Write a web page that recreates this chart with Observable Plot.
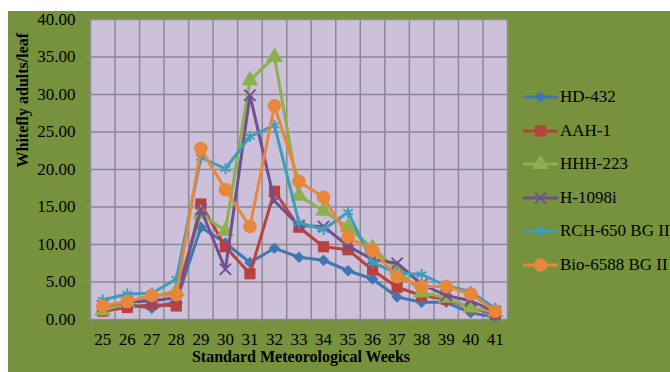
<!DOCTYPE html>
<html>
<head>
<meta charset="utf-8">
<script src="https://cdn.jsdelivr.net/npm/d3@7"></script>
<script src="https://cdn.jsdelivr.net/npm/@observablehq/plot@0.6"></script>
<style>
  html, body { margin: 0; padding: 0; background: #ffffff; }
  #wrap { position: relative; width: 670px; height: 372px; overflow: hidden; }
  #chart { position: absolute; left: 8px; top: 11px; width: 662px; height: 361px; background: #76923C; }
  #chart svg { display: block; }
  #legend { position: absolute; left: 523px; top: 0; font-family: "Liberation Serif", "DejaVu Serif", serif; font-size: 17px; color: #000; }
  .item { position: absolute; left: 0; height: 20px; display: flex; align-items: center; white-space: nowrap; }
  .item svg { display: block; margin-right: 1px; }
</style>
</head>
<body>
<div id="wrap">
  <div id="chart"></div>
  <div id="legend"></div>
</div>
<script>
// Standard meteorological weeks
const weeks = [25, 26, 27, 28, 29, 30, 31, 32, 33, 34, 35, 36, 37, 38, 39, 40, 41];

// Whitefly adults per leaf for each hybrid
const hd432   = [1.5, 2.0, 1.5, 2.4, 12.3, 10.2, 7.6, 9.5, 8.3, 7.9, 6.5, 5.4, 3.0, 2.3, 2.3, 0.9, 0.3];
const aah1    = [1.1, 1.6, 2.0, 1.8, 15.4, 9.7, 6.1, 17.1, 12.3, 9.7, 9.3, 6.6, 4.3, 3.2, 2.7, 1.6, 0.7];
const hhh223  = [1.2, 2.2, 3.0, 3.8, 14.1, 11.8, 31.9, 35.0, 16.5, 14.5, 12.3, 9.5, 6.7, 3.6, 2.9, 1.6, 1.0];
const h1098i  = [1.8, 2.3, 2.5, 2.9, 14.7, 6.7, 29.9, 15.8, 12.5, 12.4, 9.8, 8.0, 7.5, 4.7, 3.2, 2.5, 1.0];
const rch650  = [2.6, 3.4, 3.5, 5.4, 21.6, 20.1, 24.4, 25.9, 12.9, 12.0, 14.3, 7.6, 6.2, 6.0, 4.5, 3.7, 1.5];
const bio6588 = [1.8, 2.4, 3.2, 3.3, 22.8, 17.3, 12.4, 28.5, 18.4, 16.3, 11.0, 9.2, 5.7, 4.4, 4.4, 3.4, 1.1];

const seriesNames = ["HD-432", "AAH-1", "HHH-223", "H-1098i", "RCH-650 BG II", "Bio-6588 BG II"];
const seriesValues = [hd432, aah1, hhh223, h1098i, rch650, bio6588];

const yTicks = [0, 5, 10, 15, 20, 25, 30, 35, 40];
const xTitle = "Standard Meteorological Weeks";
const yTitle = "Whitefly adults/leaf";

// Series styling: colour, marker symbol, marker radius, whether the marker is stroked
const colors  = ["#4077B0", "#B9423F", "#8DB04F", "#6F5090", "#3C9EB8", "#E8873B"];
const symbols = ["diamond2", "square", "triangle", "times", "asterisk", "circle"];
const radii   = [5.2, 6.3, 6.3, 5.2, 5.2, 6.8];
const stroked = [false, false, false, true, true, false];

const rows = seriesNames.map((name, s) =>
  weeks.map((week, i) => ({ series: name, week, value: seriesValues[s][i] }))
);

// category boundaries, where the vertical grid lines and x ticks sit
const boundaries = d3.range(weeks.length + 1).map(i => weeks[0] - 0.5 + i);

const gridColor = "#8C8A90";

const seriesMarks = rows.flatMap((data, s) => [
  Plot.line(data, { x: "week", y: "value", stroke: colors[s], strokeWidth: 3, strokeLinejoin: "round" }),
  Plot.dot(data, stroked[s]
    ? { x: "week", y: "value", symbol: symbols[s], r: radii[s], stroke: colors[s], strokeWidth: 2, fill: "none" }
    : { x: "week", y: "value", symbol: symbols[s], r: radii[s], fill: colors[s], stroke: "none" })
]);

const chart = Plot.plot({
  width: 662,
  height: 361,
  marginLeft: 82,
  marginRight: 163,
  marginTop: 8,
  marginBottom: 53,
  style: {
    background: "transparent",
    fontFamily: "'Liberation Serif', 'DejaVu Serif', serif",
    fontSize: "17px",
    color: "#000",
    overflow: "visible"
  },
  x: { type: "linear", domain: [weeks[0] - 0.5, weeks[weeks.length - 1] + 0.5] },
  y: { domain: [0, 40] },
  marks: [
    Plot.frame({ fill: "#CCC0DA", stroke: "none" }),
    Plot.ruleY(yTicks, { stroke: gridColor, strokeWidth: 1.5 }),
    Plot.ruleX(boundaries, { stroke: gridColor, strokeWidth: 1.5 }),
    Plot.axisY(yTicks, { tickSize: 5, tickPadding: 10, tickFormat: d3.format(".2f"), stroke: gridColor, label: null }),
    Plot.axisX(weeks, { tickSize: 0, tickPadding: 13, tickFormat: d => String(d), label: null }),
    Plot.axisX(boundaries, { tickSize: 5, tickFormat: () => "", stroke: gridColor, label: null }),
    ...seriesMarks,
    Plot.text([yTitle], { text: d => d, frameAnchor: "left", dx: -68, dy: -2, rotate: -90, fontWeight: "bold", fontSize: 16 }),
    Plot.text([xTitle], { text: d => d, frameAnchor: "bottom", dx: 2, dy: 42, fontWeight: "bold", fontSize: 16 })
  ]
});
document.getElementById("chart").appendChild(chart);

// Legend on the right
const legend = d3.select("#legend");
seriesNames.forEach((name, s) => {
  const item = legend.append("div").attr("class", "item").style("top", (87 + s * 33.5) + "px");
  const svg = item.append("svg").attr("width", 36).attr("height", 16);
  svg.append("line").attr("x1", 0).attr("x2", 35).attr("y1", 8).attr("y2", 8)
    .attr("stroke", colors[s]).attr("stroke-width", 3);
  const symType = {
    diamond2: d3.symbolDiamond2, square: d3.symbolSquare, triangle: d3.symbolTriangle,
    times: d3.symbolTimes, asterisk: d3.symbolAsterisk, circle: d3.symbolCircle
  }[symbols[s]];
  const path = svg.append("path")
    .attr("transform", "translate(17.5,8)")
    .attr("d", d3.symbol(symType, Math.PI * radii[s] * radii[s])());
  if (stroked[s]) path.attr("fill", "none").attr("stroke", colors[s]).attr("stroke-width", 2);
  else path.attr("fill", colors[s]);
  item.append("span").text(name);
});
</script>
</body>
</html>
